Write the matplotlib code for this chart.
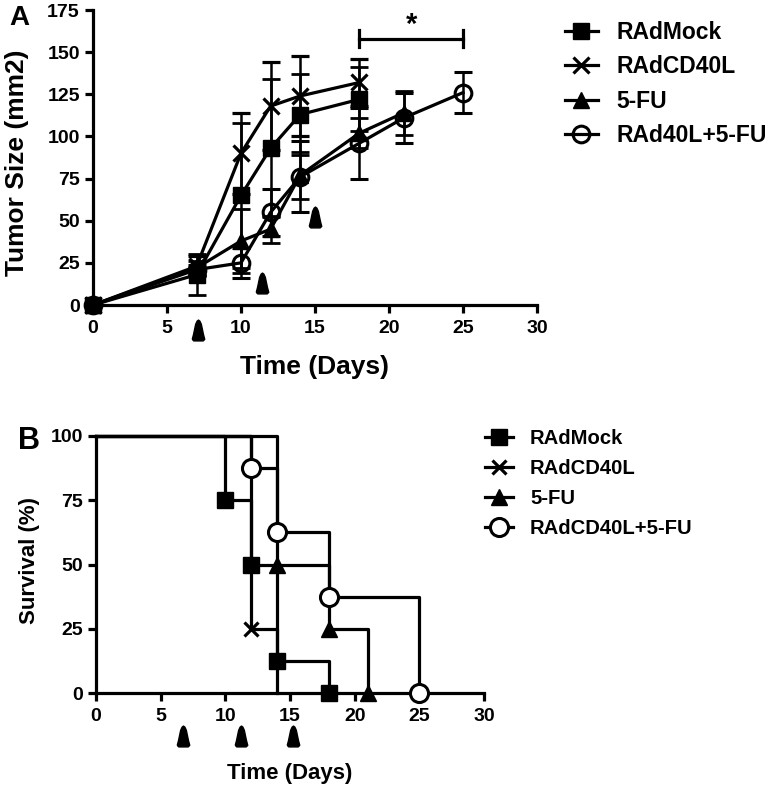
import numpy as np
import matplotlib
matplotlib.use("Agg")
import matplotlib.pyplot as plt
from matplotlib.lines import Line2D
from matplotlib.path import Path

plt.rcParams["font.family"] = ["Liberation Sans", "DejaVu Sans"]
plt.rcParams["font.weight"] = "bold"

# ---- Panel A: tumour growth (mean +/- SEM) ----
labels_a = ["RAdMock", "RAdCD40L", "5-FU", "RAd40L+5-FU"]
days_mock = [0, 7, 10, 12, 14, 18]
size_mock = [0, 18, 65, 93, 113, 122]
err_mock = [0, 12, 43, 41, 24, 19]

days_cd40l = [0, 7, 10, 12, 14, 18]
size_cd40l = [0, 23, 90, 118, 124, 132]
err_cd40l = [0, 6, 24, 26, 24, 14]

days_5fu = [0, 7, 10, 12, 14, 18, 21]
size_5fu = [0, 22, 38, 45, 77, 102, 114]
err_5fu = [0, 4, 19, 8, 14, 9, 13]

days_combo = [0, 7, 10, 12, 14, 18, 21, 25]
size_combo = [0, 21, 25, 55, 76, 96, 111, 126]
err_combo = [0, 3, 9, 14, 21, 21, 15, 12]

# treatment arrowheads (day, y) and significance bracket
arrows_a = [(7.1, -14.8), (11.4, 13), (15.0, 52)]
bracket_days = [18, 25]
bracket_y = 158

# ---- Panel B: Kaplan-Meier survival ----
labels_b = ["RAdMock", "RAdCD40L", "5-FU", "RAdCD40L+5-FU"]
km_mock_t = [0, 10, 12, 14, 18]
km_mock_s = [100, 75, 50, 12.5, 0]
km_cd40l_t = [0, 12, 14]
km_cd40l_s = [100, 25, 0]
km_5fu_t = [0, 14, 18, 21]
km_5fu_s = [100, 50, 25, 0]
km_combo_t = [0, 12, 14, 18, 25]
km_combo_s = [100, 87.5, 62.5, 37.5, 0]
arrows_b = [6.7, 11.2, 15.2]

W, H = 774, 788
fig = plt.figure(figsize=(W / 100, H / 100), dpi=100)

LW = 2.3
arrow_marker = Path([(-0.6, -0.85), (-0.45, -1.0), (0.45, -1.0), (0.6, -0.85),
                     (0.48, -0.4), (0.27, 0.6), (0.13, 0.9), (0, 1.0),
                     (-0.13, 0.9), (-0.27, 0.6), (-0.48, -0.4), (-0.6, -0.85)])


def style_axes(ax):
    for side in ("top", "right"):
        ax.spines[side].set_visible(False)
    for side in ("left", "bottom"):
        ax.spines[side].set_linewidth(LW)
    ax.tick_params(direction="out", length=6, width=LW, labelsize=14)
    ax.tick_params(axis="x", pad=5)
    ax.tick_params(axis="y", pad=3.5)


# Panel A
axA = fig.add_axes([93 / W, 1 - 305 / H, 444 / W, 295 / H])
style_axes(axA)
series_a = [
    (days_mock, size_mock, err_mock, dict(marker="s", ms=11, mfc="black")),
    (days_cd40l, size_cd40l, err_cd40l, dict(marker="x", ms=11, mew=2.3)),
    (days_5fu, size_5fu, err_5fu, dict(marker="^", ms=12, mfc="black")),
    (days_combo, size_combo, err_combo, dict(marker="o", ms=12, mfc="none", mew=2.2)),
]
handles_a = []
for (d, v, e, mk), lab in zip(series_a, labels_a):
    cont = axA.errorbar(d, v, yerr=e, color="black", lw=LW, capsize=6.5, capthick=2,
                        elinewidth=1.8, mec="black", **mk)
    cont[0].set_clip_on(False)
    handles_a.append(Line2D([], [], color="black", lw=LW, mec="black", **mk))

axA.set_xlim(0, 30)
axA.set_ylim(0, 175)
axA.set_xticks(np.arange(0, 31, 5))
axA.set_yticks(np.arange(0, 176, 25))

for x, y in arrows_a:
    axA.plot(x, y, marker=arrow_marker, ms=15, color="black", clip_on=False)

axA.plot(bracket_days, [bracket_y, bracket_y], color="black", lw=LW)
for bd in bracket_days:
    axA.plot([bd, bd], [bracket_y - 5, bracket_y + 5], color="black", lw=LW)
axA.text(np.mean(bracket_days), 166, "*", ha="center", va="center", fontsize=21)

axA.legend(handles_a, labels_a, loc="upper left", bbox_to_anchor=(565 / W, 1 - 21 / H),
           bbox_transform=fig.transFigure, frameon=False, fontsize=16.5,
           handlelength=1.42, handletextpad=0.82, labelspacing=0.5,
           borderpad=0, borderaxespad=0)

fig.text(315 / W, 1 - 367 / H, "Time (Days)", ha="center", va="center", fontsize=19)
fig.text(17 / W, 1 - 163 / H, "Tumor Size (mm2)", ha="center", va="center",
         rotation=90, fontsize=19)
fig.text(19 / W, 1 - 18 / H, "A", ha="center", va="center", fontsize=20)

# Panel B
axB = fig.add_axes([96 / W, 1 - 693 / H, 388 / W, 257 / H])
style_axes(axB)
series_b = [
    (km_mock_t, km_mock_s, dict(marker="s", ms=11, mfc="black"), None),
    (km_cd40l_t, km_cd40l_s, dict(marker="x", ms=10, mew=2.3), [1]),
    (km_5fu_t, km_5fu_s, dict(marker="^", ms=11, mfc="black"), None),
    (km_combo_t, km_combo_s, dict(marker="o", ms=13, mfc="white", mew=2.2), None),
]
handles_b = []
for (t, s, mk, evt), lab in zip(series_b, labels_b):
    axB.step(t, s, where="post", color="black", lw=LW, clip_on=False)
    idx = evt if evt is not None else list(range(1, len(t)))
    axB.plot(np.array(t)[idx], np.array(s)[idx], ls="none", color="black",
             mec="black", clip_on=False, zorder=4, **mk)
    handles_b.append(Line2D([], [], color="black", lw=LW, mec="black", **mk))

axB.set_xlim(0, 30)
axB.set_ylim(0, 100)
axB.set_xticks(np.arange(0, 31, 5))
axB.set_yticks(np.arange(0, 101, 25))

for x in arrows_b:
    axB.plot(x, -16.7, marker=arrow_marker, ms=15, color="black", clip_on=False)

axB.legend(handles_b, labels_b, loc="upper left", bbox_to_anchor=(485 / W, 1 - 429 / H),
           bbox_transform=fig.transFigure, frameon=False, fontsize=14.6,
           handlelength=1.38, handletextpad=0.84, labelspacing=0.55,
           borderpad=0, borderaxespad=0)

fig.text(290 / W, 1 - 773 / H, "Time (Days)", ha="center", va="center", fontsize=16)
fig.text(29 / W, 1 - 560 / H, "Survival (%)", ha="center", va="center",
         rotation=90, fontsize=16)
fig.text(29 / W, 1 - 441 / H, "B", ha="center", va="center", fontsize=22)

fig.savefig("out.png", dpi=100)
